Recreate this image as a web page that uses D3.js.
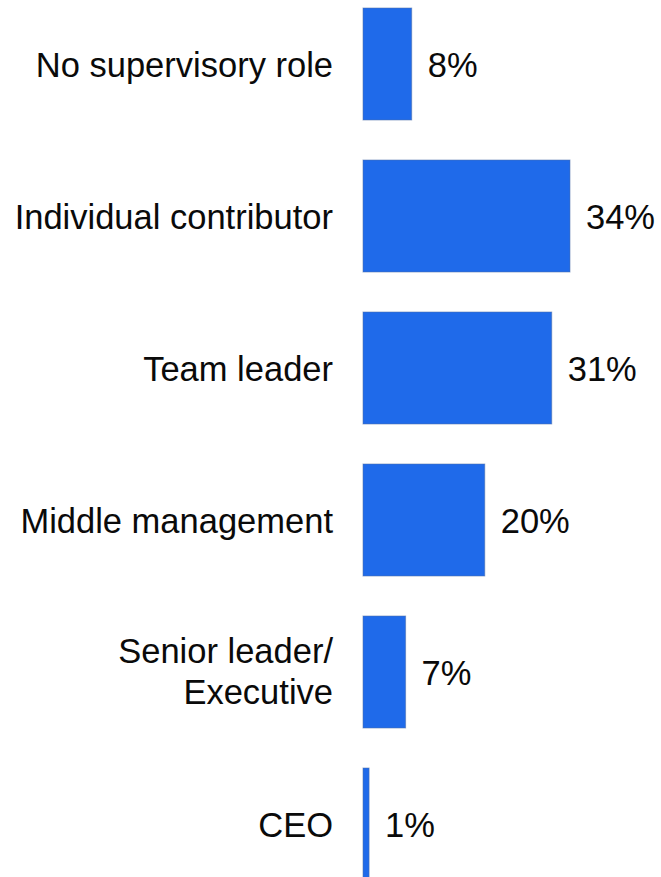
<!DOCTYPE html>
<html>
<head>
<meta charset="utf-8">
<script src="https://cdn.jsdelivr.net/npm/d3@7"></script>
<style>
  html, body { margin: 0; padding: 0; background: #fff; }
  svg { display: block; }
  text { font-family: "Liberation Sans", Arial, Helvetica, sans-serif; fill: #0a0a0a; }
</style>
</head>
<body>
<svg id="chart" width="661" height="877"></svg>
<script>
// Share of respondents by role level
const categories = [
  ["No supervisory role"],
  ["Individual contributor"],
  ["Team leader"],
  ["Middle management"],
  ["Senior leader/", "Executive"],
  ["CEO"]
];
const values = [8, 34, 31, 20, 7, 1];
const valueLabels = ["8%", "34%", "31%", "20%", "7%", "1%"];

const keys = categories.map(c => c.join(" "));
const svg = d3.select("#chart");

const x0 = 363;
const x = d3.scaleLinear().domain([0, 34]).range([x0, 570]);
const y = d3.scaleBand()
  .domain(keys)
  .range([-12, 900])
  .paddingInner(40 / 152)
  .paddingOuter(20 / 152);

const fontSize = 34.5;
const baselineShift = 13;

const rows = svg.selectAll("g.row")
  .data(keys.map((k, i) => ({ key: k, lines: categories[i], value: values[i], label: valueLabels[i] })))
  .join("g")
  .attr("class", "row");

rows.append("rect")
  .attr("x", x(0))
  .attr("y", d => y(d.key))
  .attr("width", d => x(d.value) - x(0))
  .attr("height", y.bandwidth())
  .attr("fill", "#1f6aea")
  .attr("stroke", "#4f6fa8")
  .attr("stroke-opacity", 0.55)
  .attr("stroke-width", 1);

rows.append("text")
  .attr("x", d => x(d.value) + 16)
  .attr("y", d => y(d.key) + y.bandwidth() / 2 + baselineShift)
  .attr("font-size", fontSize)
  .text(d => d.label);

const lineGap = 41;
rows.each(function(d) {
  const g = d3.select(this);
  const cy = y(d.key) + y.bandwidth() / 2 + baselineShift;
  const n = d.lines.length;
  d.lines.forEach((line, j) => {
    g.append("text")
      .attr("x", x0 - 30)
      .attr("y", cy + (j - (n - 1) / 2) * lineGap - (n > 1 ? 2 : 0))
      .attr("text-anchor", "end")
      .attr("font-size", fontSize)
      .text(line);
  });
});
</script>
</body>
</html>
